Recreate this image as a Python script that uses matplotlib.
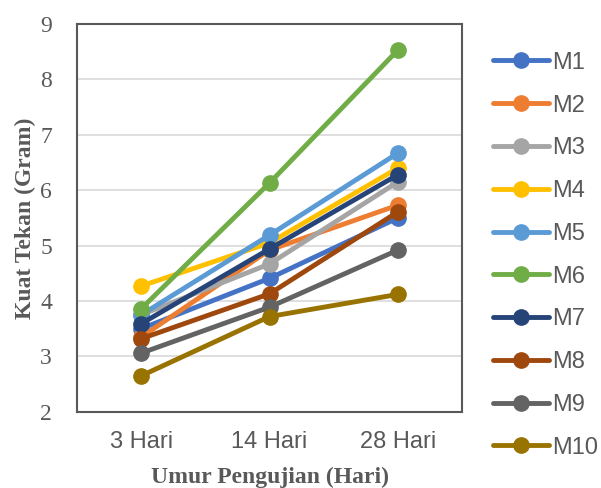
import matplotlib.pyplot as plt

umur = ["3 Hari", "14 Hari", "28 Hari"]

M1 = [3.50, 4.41, 5.50]
M2 = [3.35, 4.92, 5.73]
M3 = [3.75, 4.67, 6.15]
M4 = [4.27, 5.05, 6.40]
M5 = [3.75, 5.19, 6.67]
M6 = [3.86, 6.13, 8.53]
M7 = [3.59, 4.94, 6.28]
M8 = [3.32, 4.13, 5.61]
M9 = [3.06, 3.89, 4.92]
M10 = [2.65, 3.72, 4.12]

series = [M1, M2, M3, M4, M5, M6, M7, M8, M9, M10]
labels = ["M1", "M2", "M3", "M4", "M5", "M6", "M7", "M8", "M9", "M10"]
colors = ["#4472C4", "#ED7D31", "#A5A5A5", "#FFC000", "#5B9BD5",
          "#70AD47", "#264478", "#9E480E", "#636363", "#997300"]

fig = plt.figure(figsize=(6.01, 4.88), dpi=100)
ax = fig.add_axes([0.128, 0.156, 0.641, 0.795])

x = list(range(len(umur)))
for vals, lab, col in zip(series, labels, colors):
    ax.plot(x, vals, color=col, lw=3.5, marker="o", ms=11,
            solid_capstyle="round", label=lab, zorder=3)

ax.set_xlim(-0.5, 2.5)
ax.set_ylim(2, 9)
ax.set_yticks(range(2, 10))
ax.set_xticks(x)
ax.set_xticklabels(umur, family="Liberation Sans", fontsize=17, color="#595959")
for t in ax.get_yticklabels():
    t.set_family("Liberation Serif")
    t.set_fontsize(17)
    t.set_color("#595959")
ax.tick_params(axis="x", length=0, pad=14)
ax.tick_params(axis="y", length=0, pad=18)
ax.yaxis.grid(True, color="#D9D9D9", lw=1.2)
ax.set_axisbelow(True)
for s in ax.spines.values():
    s.set_color("#595959")
    s.set_linewidth(1.5)

ax.set_xlabel("Umur Pengujian (Hari)", family="Liberation Serif", fontweight="bold",
              fontsize=17, color="#595959", labelpad=10)
ax.set_ylabel("Kuat Tekan (Gram)", family="Liberation Serif", fontweight="bold",
              fontsize=17, color="#595959", labelpad=3)

leg = ax.legend(loc="upper left", bbox_to_anchor=(0.82, 0.894), bbox_transform=fig.transFigure,
                frameon=False, handlelength=2.4, handletextpad=0.1, labelspacing=0.88,
                borderaxespad=0, borderpad=0,
                prop={"family": "Liberation Sans", "size": 17})
for t in leg.get_texts():
    t.set_color("#595959")

fig.savefig("out.png", dpi=100)
